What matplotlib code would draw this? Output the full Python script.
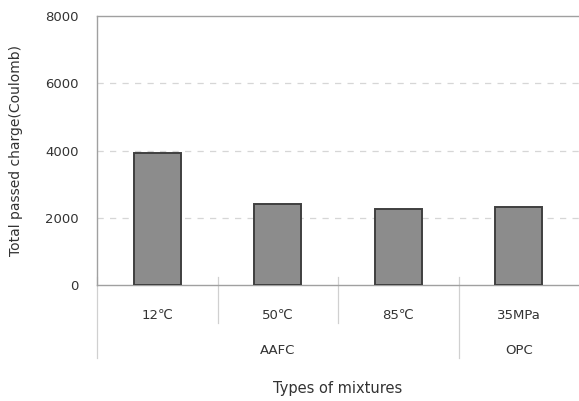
import matplotlib.pyplot as plt
import matplotlib.transforms as mtransforms

# passed charge per mixture
mixtures = ['12℃', '50℃', '85℃', '35MPa']
groups = ['AAFC', 'AAFC', 'AAFC', 'OPC']
charge = [3920, 2400, 2250, 2320]
yticks = [0, 2000, 4000, 6000, 8000]

fig = plt.figure(figsize=(5.79, 4.01), dpi=100)
ax = fig.add_axes([97/579, 116/401, 482/579, 269/401])

x = list(range(len(mixtures)))
ax.bar(x, charge, width=0.39, color='#8c8c8c', edgecolor='#3f3f3f', linewidth=1.4, zorder=3)

ax.set_xlim(-0.5, len(mixtures) - 0.5)
ax.set_ylim(0, 8000)
ax.set_yticks(yticks)
ax.set_yticklabels([str(v) for v in yticks], fontsize=9.5, color='#333333')
ax.tick_params(axis='y', length=0, pad=13)
ax.set_xticks([])

for v in yticks[1:-1]:
    ax.axhline(v, color='#d6d6d6', linestyle=(0, (5, 5)), linewidth=0.9, zorder=1)

for side in ['left', 'bottom', 'top']:
    ax.spines[side].set_color('#a0a0a0')
    ax.spines[side].set_linewidth(1.0)
ax.spines['right'].set_visible(False)

ax.set_ylabel('Total passed charge(Coulomb)', fontsize=10, color='#333333', labelpad=16)

# category table under the axis
trans = mtransforms.blended_transform_factory(ax.transData, ax.transAxes)
for sep, low in [(-0.5, -0.27), (0.5, -0.14), (1.5, -0.14), (2.5, -0.27)]:
    ax.plot([sep, sep], [0.03, low], transform=trans, color='#d0d0d0',
            linewidth=0.9, clip_on=False)

for i, name in enumerate(mixtures):
    ax.text(i, -0.112, name, transform=trans, ha='center', va='center',
            fontsize=9.5, color='#333333')

group_names = []
for g in groups:
    if g not in group_names:
        group_names.append(g)
for g in group_names:
    idx = [i for i, v in enumerate(groups) if v == g]
    ax.text(sum(idx) / len(idx), -0.242, g, transform=trans, ha='center',
            va='center', fontsize=9.5, color='#333333')

ax.text(1.5, -0.383, 'Types of mixtures', transform=trans, ha='center',
        va='center', fontsize=10.5, color='#333333')

fig.savefig('out.png', dpi=100)
